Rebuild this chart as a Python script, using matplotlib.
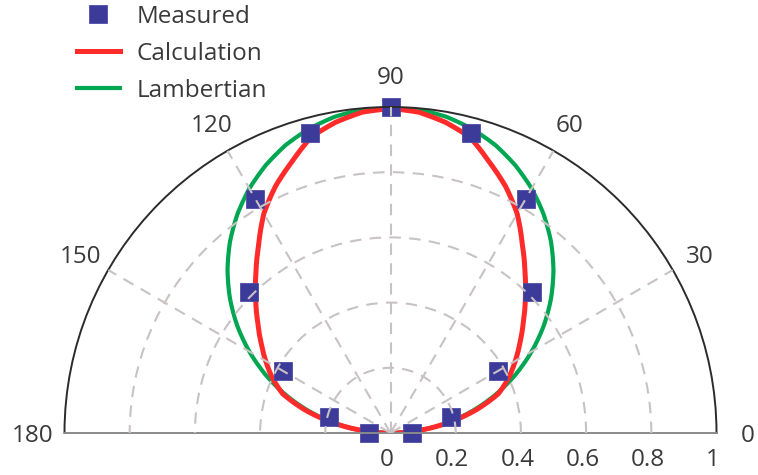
import numpy as np
import matplotlib
matplotlib.use("Agg")
import matplotlib.pyplot as plt
from matplotlib.transforms import offset_copy

plt.rcParams["font.family"] = ["Open Sans", "DejaVu Sans"]

# angles in degrees, intensity normalised to 1
meas_angle = [0, 15, 30, 45, 60, 75, 90, 105, 120, 135, 150, 165, 180]
meas_r = [0.066, 0.193, 0.381, 0.613, 0.829, 0.952, 1.0,
          0.954, 0.829, 0.613, 0.381, 0.195, 0.066]

curve_angle = list(range(0, 181, 5))
calc_r = [0.01, 0.085, 0.178, 0.27, 0.352, 0.40, 0.442, 0.485, 0.532,
          0.585, 0.642, 0.705, 0.777, 0.835, 0.885, 0.94, 0.968, 0.988,
          0.995,
          0.988, 0.968, 0.94, 0.885, 0.835, 0.777, 0.705, 0.642, 0.585,
          0.532, 0.485, 0.442, 0.40, 0.352, 0.27, 0.178, 0.085, 0.01]
lamb_r = [0.0, 0.087, 0.174, 0.259, 0.342, 0.423, 0.5, 0.574, 0.643,
          0.707, 0.766, 0.819, 0.866, 0.906, 0.94, 0.966, 0.985, 0.996,
          1.0,
          0.996, 0.985, 0.966, 0.94, 0.906, 0.866, 0.819, 0.766, 0.707,
          0.643, 0.574, 0.5, 0.423, 0.342, 0.259, 0.174, 0.087, 0.0]

theta_ticks = [0, 30, 60, 90, 120, 150, 180]
r_ticks = [0, 0.2, 0.4, 0.6, 0.8, 1]
r_tick_labels = ["0", "0.2", "0.4", "0.6", "0.8", "1"]

text_col = "#3a3a3a"
grid_col = "#c9c2c3"
fs = 17.5

fig = plt.figure(figsize=(7.58, 4.75), dpi=100)
# square box: the half-disc sits in the middle of it
ax = fig.add_axes([64.5 / 758, -121 / 475, 652 / 758, 652 / 475], projection="polar")
ax.set_thetamin(0)
ax.set_thetamax(180)
ax.set_rlim(0, 1)

lamb_line, = ax.plot(np.deg2rad(curve_angle), lamb_r, color="#00a651", lw=3.0,
                     label="Lambertian", zorder=2)
calc_line, = ax.plot(np.deg2rad(curve_angle), calc_r, color="#ff2a2a", lw=3.6,
                     label="Calculation", zorder=2.1)
# let the polar transform draw the segments as curves instead of chords
for ln in (lamb_line, calc_line):
    ln.get_path()._interpolation_steps = 20
meas_line, = ax.plot(np.deg2rad(meas_angle), meas_r, ls="none", marker="s",
                     ms=13, color="#3d3b99", mec="#4f4da6", mew=0.6,
                     label="Measured", zorder=2.2, clip_on=False)

# grid on top of the data, dashed and light
ax.set_axisbelow(False)
ax.set_rgrids([0.2, 0.4, 0.6, 0.8], labels=[])
ax.set_thetagrids([30, 60, 90, 120, 150], labels=[])
ax.grid(True, color=grid_col, lw=1.5, ls=(0, (5.5, 4)))
ax.tick_params(axis="both", length=0)
for gl in ax.xaxis.get_gridlines() + ax.yaxis.get_gridlines():
    gl.set_zorder(3)

ax.spines["polar"].set_color("#2b2b2b")
ax.spines["polar"].set_linewidth(1.4)
for s in ["start", "end"]:
    ax.spines[s].set_color("#8a8a8a")
    ax.spines[s].set_linewidth(1.4)
ax.spines["inner"].set_visible(False)

# angle labels
toff = offset_copy(ax.transData, fig=fig, x=0, y=-3, units="dots")
for a in theta_ticks:
    ax.text(np.deg2rad(a), 1.097, str(a), transform=toff, ha="center",
            va="center", fontsize=fs, color=text_col)

# radial labels under the baseline
off = offset_copy(ax.transData, fig=fig, x=-3.5, y=-27, units="dots")
for r, lab in zip(r_ticks, r_tick_labels):
    ax.text(0, r, lab, transform=off, ha="center", va="center",
            fontsize=fs, color=text_col)

ax.legend(handles=[meas_line, calc_line, lamb_line],
          labels=["Measured", "Calculation", "Lambertian"],
          loc="upper left", bbox_to_anchor=(77 / 758, 1 - 5 / 475),
          bbox_transform=fig.transFigure, frameon=False, fontsize=fs,
          handlelength=1.75, handletextpad=0.7, labelspacing=0.53,
          borderpad=0, borderaxespad=0, labelcolor=text_col)

fig.savefig("out.png", dpi=100)
